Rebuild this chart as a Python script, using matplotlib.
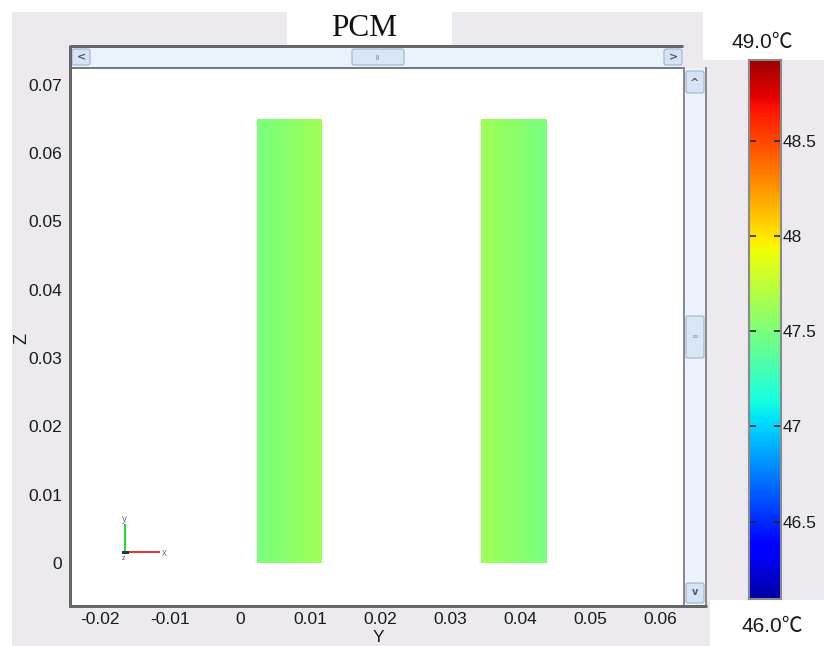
import numpy as np
import matplotlib
matplotlib.use("Agg")
import matplotlib.pyplot as plt
from matplotlib.patches import Rectangle, FancyBboxPatch
from matplotlib.lines import Line2D
from matplotlib.colors import Normalize

# ---------------- data ----------------
title = "PCM"
x_ticks = [-0.02, -0.01, 0.0, 0.01, 0.02, 0.03, 0.04, 0.05, 0.06]
x_tick_labels = ["-0.02", "-0.01", "0", "0.01", "0.02", "0.03", "0.04", "0.05", "0.06"]
z_ticks = [0.0, 0.01, 0.02, 0.03, 0.04, 0.05, 0.06, 0.07]
z_tick_labels = ["0", "0.01", "0.02", "0.03", "0.04", "0.05", "0.06", "0.07"]
x_label = "Y"
z_label = "Z"

pcm_left_y = [0.0024, 0.0116]
pcm_right_y = [0.0345, 0.0439]
pcm_z = [0.0, 0.065]
pcm_left_temps = [47.50, 47.53, 47.56, 47.59, 47.62]
pcm_right_temps = [47.62, 47.59, 47.56, 47.53, 47.50]

t_min, t_max = 46.0, 49.0
cbar_ticks = [46.5, 47.0, 47.5, 48.0, 48.5]
cbar_tick_labels = ["46.5", "47", "47.5", "48", "48.5"]
cbar_top_label = "49.0\u2103"
cbar_bottom_label = "46.0\u2103"

# ---------------- layout ----------------
W, H, DPI = 824, 646, 100
BG = "#ECEAEE"
FONT = ["Liberation Sans", "DejaVu Sans"]
CFONT = ["Liberation Sans", "Noto Sans CJK SC", "DejaVu Sans"]
PX = 0.72  # points per pixel

fig = plt.figure(figsize=(W / DPI, H / DPI), dpi=DPI)
fig.patch.set_facecolor(BG)


def fr(x0, y0, x1, y1):
    return [x0 / W, 1 - y1 / H, (x1 - x0) / W, (y1 - y0) / H]


def frect(x0, y0, x1, y1, **kw):
    fig.add_artist(Rectangle((x0 / W, 1 - y1 / H), (x1 - x0) / W, (y1 - y0) / H,
                             transform=fig.transFigure, **kw))


def fbox(x0, y0, x1, y1, **kw):
    fig.add_artist(FancyBboxPatch((x0 / W, 1 - y1 / H), (x1 - x0) / W, (y1 - y0) / H,
                                  boxstyle="round,pad=0,rounding_size=0.003",
                                  transform=fig.transFigure, **kw))


def fline(xs, ys, **kw):
    fig.add_artist(Line2D([x / W for x in xs], [1 - y / H for y in ys],
                          transform=fig.transFigure, **kw))


def ftext(x, y, s, **kw):
    fig.text(x / W, 1 - y / H, s, **kw)


# white background pieces of the screenshot
for r in [(0, 0, W, 12), (0, 0, 12, H), (287, 0, 452, 46), (703, 0, W, 60), (710, 600, W, H)]:
    frect(*r, facecolor="white", edgecolor="none", zorder=-5)

# ---------------- main axes ----------------
ax = fig.add_axes(fr(70, 68, 683, 606))
ax.set_facecolor("white")
for s in ax.spines.values():
    s.set_visible(False)

norm = Normalize(vmin=t_min, vmax=t_max)
for ys, temps in [(pcm_left_y, pcm_left_temps), (pcm_right_y, pcm_right_temps)]:
    arr = np.array([temps])
    ax.imshow(arr, cmap="jet", norm=norm, interpolation="bilinear",
              extent=[ys[0], ys[1], pcm_z[0], pcm_z[1]], origin="lower", aspect="auto")
ax.set_xlim(-0.02429, 0.06329)
ax.set_ylim(-0.0063, 0.07247)

ax.set_xticks(x_ticks)
ax.set_xticklabels(x_tick_labels)
ax.set_yticks(z_ticks)
ax.set_yticklabels(z_tick_labels)
ax.tick_params(axis="both", length=0, labelsize=12.5, colors="#1a1a1a")
ax.tick_params(axis="y", pad=5.5)
ax.tick_params(axis="x", pad=4.5)
for lab in ax.get_xticklabels() + ax.get_yticklabels():
    lab.set_fontfamily(FONT)

ftext(22, 338, z_label, rotation=90, ha="center", va="center", fontsize=13,
      family=FONT, color="#1a1a1a")
ftext(378, 645.5, x_label, ha="center", va="bottom", fontsize=12.5, family=FONT, color="#1a1a1a")

# triad icon
fline([125, 125], [552, 525], color="#22dd22", lw=2 * PX, zorder=6)
fline([125, 159], [552, 552], color="#ee3333", lw=2 * PX, zorder=6)
fline([123, 127], [552, 552], color="#223366", lw=3 * PX, zorder=7)
ftext(124, 519, "y", ha="center", va="center", fontsize=7, color="#777777", family=FONT, zorder=7)
ftext(164, 553, "x", ha="center", va="center", fontsize=7, color="#777777", family=FONT, zorder=7)
ftext(124, 559, "z", ha="center", va="center", fontsize=5, color="#555555", family=FONT, zorder=7)

# ---------------- window frame and scrollbars ----------------
FR = "#666666"
# horizontal scrollbar
frect(70, 47, 683, 67, facecolor="#EAF2FC", edgecolor="none", zorder=5)
fbox(72, 49, 90, 65, facecolor="#D5E3F4", edgecolor="#9DB3CE", lw=0.8, zorder=6)
fbox(664, 49, 682, 65, facecolor="#D5E3F4", edgecolor="#9DB3CE", lw=0.8, zorder=6)
fbox(352, 49, 404, 65, facecolor="#D8E6F6", edgecolor="#9DB3CE", lw=0.8, zorder=6)
ftext(81, 57, "<", ha="center", va="center", fontsize=8, color="#4a5a70", weight="bold", zorder=7)
ftext(673, 57, ">", ha="center", va="center", fontsize=8, color="#4a5a70", weight="bold", zorder=7)
ftext(378, 57, "\u2261", ha="center", va="center", fontsize=6, color="#8fa3bd", rotation=90, zorder=7)
fline([70, 683], [46, 46], color=FR, lw=3 * PX, zorder=8, solid_capstyle="butt")
fline([70, 683], [67.5, 67.5], color="#7a7a7a", lw=2 * PX, zorder=8, solid_capstyle="butt")

# vertical scrollbar
frect(683, 68, 707, 606, facecolor="#EDF3FB", edgecolor="none", zorder=5)
fline([684, 684], [68, 606], color="#8a8a8a", lw=2 * PX, zorder=8)
fline([706, 706], [68, 606], color="#8a8a8a", lw=2 * PX, zorder=8)
fbox(686, 71, 704, 93, facecolor="#D5E3F4", edgecolor="#9DB3CE", lw=0.8, zorder=6)
fbox(686, 583, 704, 603, facecolor="#D5E3F4", edgecolor="#9DB3CE", lw=0.8, zorder=6)
fbox(686, 316, 704, 358, facecolor="#D8E6F6", edgecolor="#9DB3CE", lw=0.8, zorder=6)
ftext(695, 83, "^", ha="center", va="center", fontsize=8, color="#4a5a70", weight="bold", zorder=7)
ftext(695, 592, "v", ha="center", va="center", fontsize=7, color="#4a5a70", weight="bold", zorder=7)
ftext(695, 337, "\u2261", ha="center", va="center", fontsize=6, color="#8fa3bd", zorder=7)

# axes frame lines
fline([70, 70], [45, 607], color=FR, lw=3 * PX, zorder=8, solid_capstyle="butt")
fline([69, 707], [606, 606], color=FR, lw=3 * PX, zorder=8, solid_capstyle="butt")

# ---------------- colorbar ----------------
cax = fig.add_axes(fr(749, 60, 781, 599))
grad = np.linspace(t_min, t_max, 512).reshape(-1, 1)
cax.imshow(grad, cmap="jet", norm=norm, extent=[0, 1, t_min, t_max],
           origin="lower", aspect="auto", interpolation="bilinear")
cax.set_xlim(0, 1)
cax.set_ylim(46.094, 48.924)
cax.set_xticks([])
cax.yaxis.tick_right()
cax.set_yticks(cbar_ticks)
cax.set_yticklabels(cbar_tick_labels)
cax.tick_params(axis="y", which="both", left=True, right=True, direction="in",
                length=5, width=1.2, color="#222222", labelsize=12.5, pad=1.5,
                labelcolor="#1a1a1a")
for lab in cax.get_yticklabels():
    lab.set_fontfamily(FONT)
for s in cax.spines.values():
    s.set_color("#8a8a8a")
    s.set_linewidth(1.5)

ftext(762, 43, cbar_top_label, ha="center", va="center", fontsize=15, family=CFONT, color="#1a1a1a")
ftext(772, 627, cbar_bottom_label, ha="center", va="center", fontsize=15, family=CFONT, color="#1a1a1a")

# ---------------- title ----------------
ftext(364, 28, title, ha="center", va="center", fontsize=22.5,
      family=["Liberation Serif", "DejaVu Serif"], color="#111111")

fig.savefig("out.png", dpi=DPI, facecolor=fig.get_facecolor())
